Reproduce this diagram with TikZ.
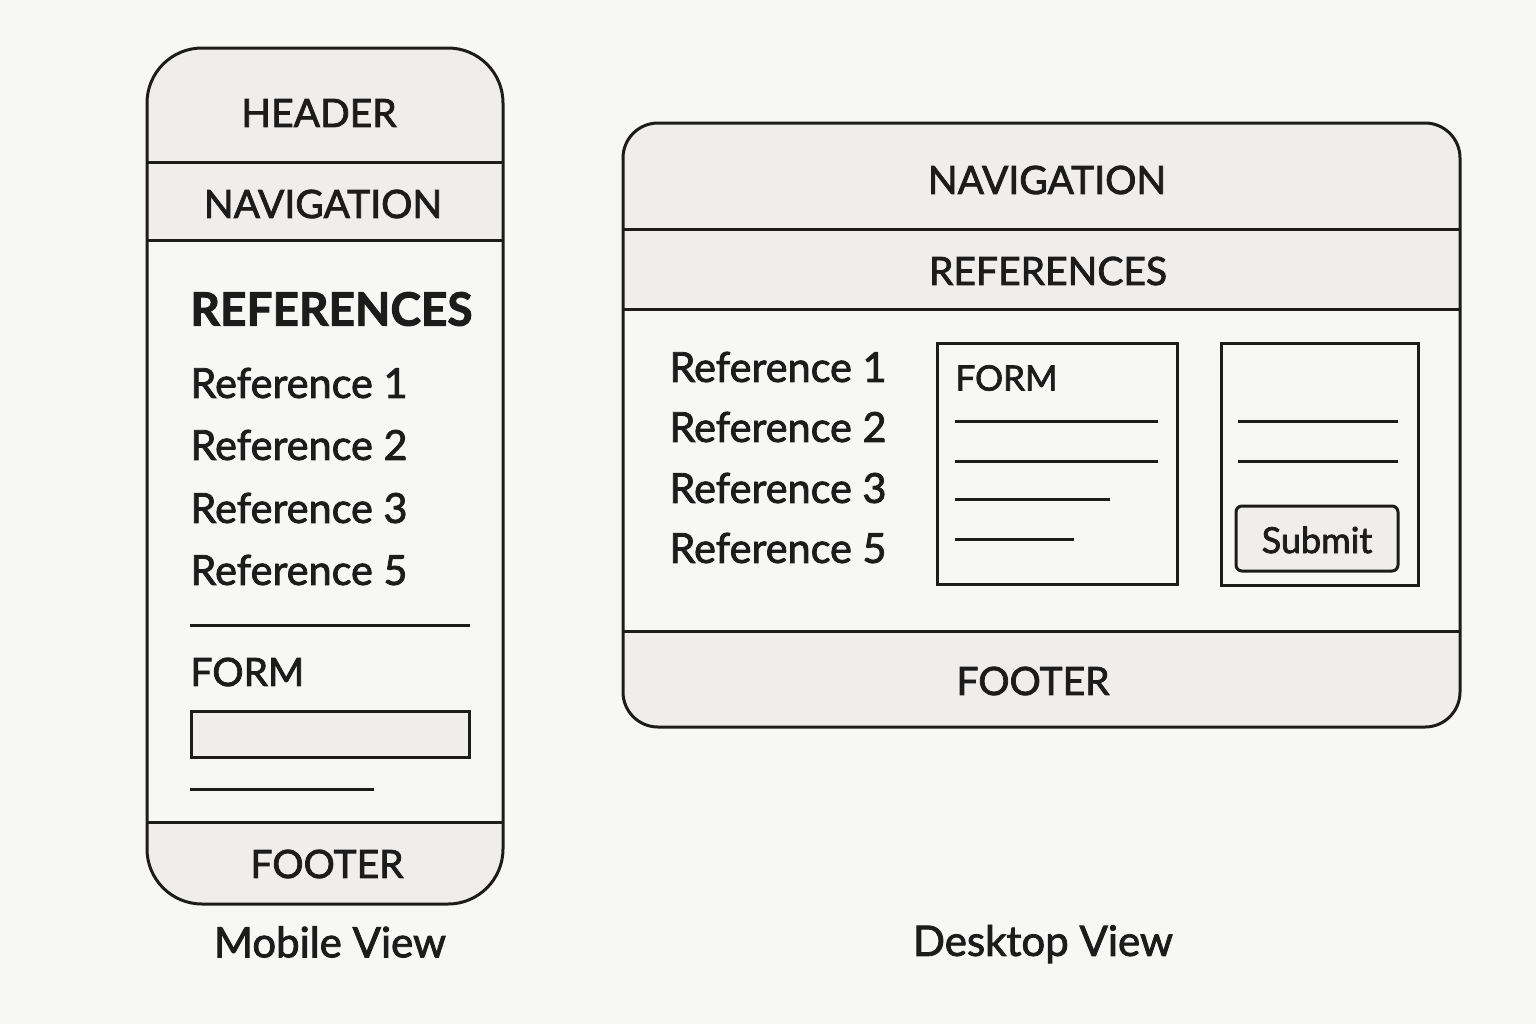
\documentclass[tikz,border=0pt]{standalone}
\usepackage{fontspec}
\setmainfont[FakeBold=2]{Lato}
\usetikzlibrary{positioning}
\definecolor{paper}{HTML}{F7F7F6}
\definecolor{band}{HTML}{EFEEED}
\definecolor{ink}{HTML}{1C1C1C}
\newcommand{\fs}[1]{\fontsize{#1}{#1}\selectfont}
\begin{document}
\begin{tikzpicture}[
		x=0.5pt, y=-0.5pt,
		line width=1.5pt,
		rule/.style={draw=ink, line width=1.5pt},
		bandlabel/.style={text=ink, inner sep=0pt, font=\fs{19.5}},
		itemlabel/.style={text=ink, inner sep=0pt, anchor=west, font=\fs{20.7}},
		caption/.style={text=ink, inner sep=0pt, font=\fs{21}},
	]
		\fill[paper] (0,0) rectangle (1536,1024);

		% mobile view
		\begin{scope}
			\clip[rounded corners=27.5pt] (147,48) rectangle (503,904);
			\fill[paper] (147,48) rectangle (503,904);
			\fill[band] (147,48) rectangle (503,240);
			\fill[band] (147,822) rectangle (503,904);
		\end{scope}
		\draw[rule, rounded corners=27.5pt] (147,48) rectangle (503,904);
		\draw[rule] (147,162) -- (503,162);
		\draw[rule] (147,240) -- (503,240);
		\draw[rule] (147,822) -- (503,822);

		\node (mhead) [bandlabel] at (319,113) {HEADER};
		\node (mnav) [bandlabel] at (323,204) {NAVIGATION};
		\node (mref) [itemlabel, font=\fs{23}\bfseries] at (189,309) {REFERENCES};
		\foreach \name/\txt/\y in {mref1/1/383, mref2/2/445, mref3/3/508, mref5/5/570}
			\node (\name) [itemlabel] at (189,\y) {Reference \txt};
		\draw[rule] (190,625) -- (470,625);
		\node (mform) [itemlabel, font=\fs{19.5}] at (189,672) {FORM};
		\draw[rule, fill=band] (191,711) rectangle (469,757);
		\draw[rule] (190,789) -- (374,789);
		\node (mfoot) [bandlabel] at (327,864) {FOOTER};
		\node (mcap) [caption] at (330,942) {Mobile View};

		% desktop view
		\begin{scope}
			\clip[rounded corners=17.5pt] (623,123) rectangle (1460,727);
			\fill[paper] (623,123) rectangle (1460,727);
			\fill[band] (623,123) rectangle (1460,309);
			\fill[band] (623,631) rectangle (1460,727);
		\end{scope}
		\draw[rule, rounded corners=17.5pt] (623,123) rectangle (1460,727);
		\draw[rule] (623,229) -- (1460,229);
		\draw[rule] (623,309) -- (1460,309);
		\draw[rule] (623,631) -- (1460,631);

		\node (dnav) [bandlabel] at (1047,180) {NAVIGATION};
		\node (dref) [bandlabel] at (1048,271) {REFERENCES};
		\foreach \name/\txt/\y in {dref1/1/367, dref2/2/427, dref3/3/488, dref5/5/548}
			\node (\name) [itemlabel] at (668,\y) {Reference \txt};

		\draw[rule] (937,343) rectangle (1177,584);
		\node (dform) [itemlabel, font=\fs{17.5}] at (954,378) {FORM};
		\draw[rule] (955,421) -- (1158,421);
		\draw[rule] (955,461) -- (1158,461);
		\draw[rule] (955,499) -- (1110,499);
		\draw[rule] (955,539) -- (1074,539);

		\draw[rule] (1221,343) rectangle (1418,585);
		\draw[rule] (1238,421) -- (1398,421);
		\draw[rule] (1238,461) -- (1398,461);
		\draw[rule, fill=band, rounded corners=3pt] (1236,506) rectangle (1398,571);
		\node (dsub) [bandlabel, font=\fs{18}] at (1317,540) {Submit};

		\node (dfoot) [bandlabel] at (1033,681) {FOOTER};
		\node (dcap) [caption] at (1043,944) {Desktop View};
	\end{tikzpicture}
\end{document}
